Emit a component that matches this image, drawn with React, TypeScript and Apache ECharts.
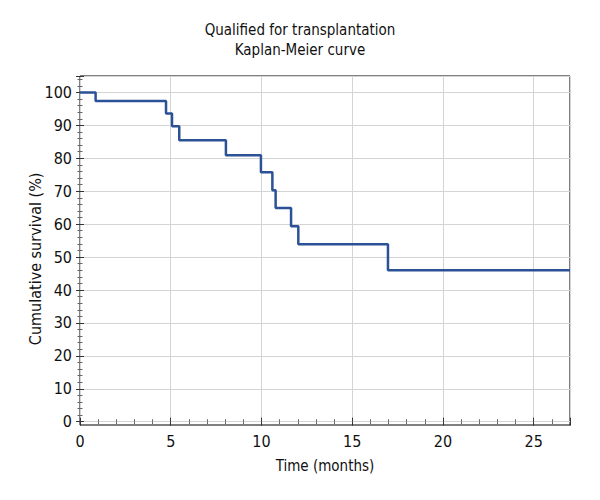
import React, { useEffect, useRef } from "react";
import * as echarts from "echarts";

const titleLines = ["Qualified for transplantation", "Kaplan-Meier curve"];
const xName = "Time (months)";
const yName = "Cumulative survival (%)";
const timeMonths = [0, 0.86, 4.74, 5.07, 5.47, 8.04, 9.97, 10.6, 10.78, 11.63, 12.03, 16.97, 27];
const survivalPct = [100, 97.4, 93.6, 89.7, 85.5, 80.9, 75.8, 70.3, 64.9, 59.4, 53.9, 46.0, 46.0];
const xMin = 0, xMax = 27, xStep = 5;
const yMin = 0, yMax = 105, yStep = 10;

const FONT = "'Liberation Sans Narrow', 'DejaVu Sans Condensed', 'Roboto Condensed', 'Noto Sans', sans-serif";

export default function App() {
  const ref = useRef<HTMLDivElement>(null);
  useEffect(() => {
    if (!ref.current) return;
    const chart = echarts.init(ref.current, undefined, { renderer: "svg" });
    const tickCommon = {
      axisLine: { show: false },
      axisTick: { show: true, inside: true, length: 4, lineStyle: { color: "#333", width: 1 } },
      minorTick: { show: true, splitNumber: 5, length: 2.5, lineStyle: { color: "#666", width: 1 } },
    };
    const labelStyle = { fontFamily: FONT, fontSize: 16, color: "#111" };
    chart.setOption({
      animation: false,
      backgroundColor: "#fff",
      textStyle: { fontFamily: FONT },
      title: {
        text: titleLines.join("\n"),
        left: "center",
        top: 15,
        textStyle: { fontFamily: FONT, fontSize: 15, fontWeight: "normal", color: "#111", lineHeight: 20 },
      },
      grid: [
        { left: 80, right: 30, top: 76, bottom: 75, show: true, borderColor: "#000", borderWidth: 1, backgroundColor: "transparent" },
        { left: 80, right: 30, top: 76, bottom: 78.3, show: false },
      ],
      xAxis: [
        { gridIndex: 0, type: "value", min: 0, max: 1, show: false },
        {
          gridIndex: 1, type: "value", position: "bottom", min: xMin, max: xMax, interval: xStep, offset: 3.3,
          ...tickCommon,
          splitLine: { show: true, lineStyle: { color: "#d4d4d4", width: 1 } },
          axisLabel: { ...labelStyle, margin: 8, showMaxLabel: false },
          name: xName, nameLocation: "middle", nameGap: 33, nameMoveOverlap: false,
          nameTextStyle: { fontFamily: FONT, fontSize: 15, color: "#111" },
        },
        {
          gridIndex: 1, type: "value", position: "top", min: xMin, max: xMax, interval: xStep,
          ...tickCommon,
          splitLine: { show: false },
          axisLabel: { show: false },
        },
      ],
      yAxis: [
        { gridIndex: 0, type: "value", min: 0, max: 1, show: false },
        {
          gridIndex: 1, type: "value", position: "left", min: yMin, max: yMax, interval: yStep,
          ...tickCommon,
          splitLine: { show: true, lineStyle: { color: "#d4d4d4", width: 1 } },
          axisLabel: { ...labelStyle, margin: 8, showMaxLabel: false },
          name: yName, nameLocation: "middle", nameGap: 37, nameMoveOverlap: false,
          nameTextStyle: { fontFamily: FONT, fontSize: 16, color: "#111", padding: [0, 20, 0, 0] },
        },
        {
          gridIndex: 1, type: "value", position: "right", min: yMin, max: yMax, interval: yStep,
          ...tickCommon,
          splitLine: { show: false },
          axisLabel: { show: false },
        },
      ],
      series: [
        {
          type: "line",
          xAxisIndex: 1,
          yAxisIndex: 1,
          step: "end",
          showSymbol: false,
          symbol: "none",
          data: timeMonths.map((t, i) => [t, survivalPct[i]]),
          lineStyle: { color: "#2b5196", width: 2.5 },
          z: 5,
        },
      ],
    });
    return () => chart.dispose();
  }, []);
  return <div ref={ref} style={{ position: "fixed", left: 0, top: 0, width: 600, height: 500 }} />;
}
